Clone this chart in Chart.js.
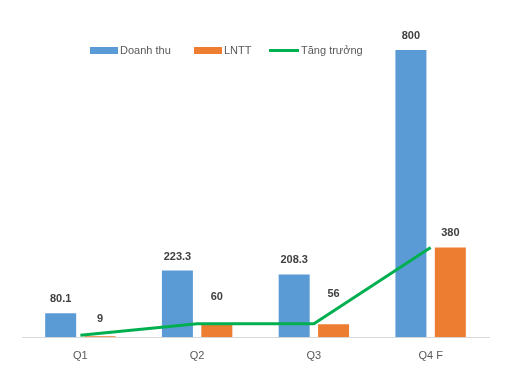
<!DOCTYPE html>
<html>
<head>
<meta charset="utf-8">
<script src="https://cdn.jsdelivr.net/npm/chart.js@4/dist/chart.umd.min.js"></script>
<style>
  html, body { margin: 0; padding: 0; background: #ffffff; }
  #wrap { width: 525px; height: 379px; position: relative; }
</style>
</head>
<body>
<div id="wrap"><canvas id="c" width="525" height="379"></canvas></div>
<script>
// ---- Data ----
const categories = ['Q1', 'Q2', 'Q3', 'Q4 F'];
const seriesNames = ['Doanh thu', 'LNTT', 'Tăng trưởng'];
// bar heights as drawn in the reference (same units as the 800 bar)
const doanhThu = [66.7, 186, 175, 800];
const lntt = [3, 34, 36, 250];
const tangTruong = [5.5, 38, 38, 250];
// data label texts printed on the reference
const doanhThuLabels = ['80.1', '223.3', '208.3', '800'];
const lnttLabels = ['9', '60', '56', '380'];

// ---- Styles ----
const BLUE = '#5B9BD5', ORANGE = '#ED7D31', GREEN = '#00B050';
const TEXT = '#595959', LABEL = '#404040';
const FONT = '"Liberation Sans", Arial, sans-serif';
const labelLift = [[14, 14, 14, 14], [17, 28, 30, 15]];
const legendX = [90, 194, 269];
const legendY = 50.5;

const dataLabelPlugin = {
  id: 'dataLabels',
  afterDatasetsDraw(chart) {
    const ctx = chart.ctx;
    const texts = [doanhThuLabels, lnttLabels];
    ctx.save();
    ctx.font = 'bold 11px ' + FONT;
    ctx.fillStyle = LABEL;
    ctx.textAlign = 'center';
    ctx.textBaseline = 'middle';
    [0, 1].forEach(di => {
      const meta = chart.getDatasetMeta(di);
      meta.data.forEach((bar, i) => {
        ctx.fillText(texts[di][i], bar.x, bar.y - labelLift[di][i]);
      });
    });
    ctx.restore();
  }
};

const legendPlugin = {
  id: 'topLegend',
  afterDraw(chart) {
    const ctx = chart.ctx;
    ctx.save();
    ctx.font = '11px ' + FONT;
    ctx.textBaseline = 'middle';
    ctx.textAlign = 'left';
    const ds = chart.data.datasets;
    [0, 1, 2].forEach((di, k) => {
      const d = ds[di];
      const x = legendX[k];
      if (d.type === 'line') {
        ctx.strokeStyle = d.borderColor;
        ctx.lineWidth = 3;
        ctx.beginPath();
        ctx.moveTo(x, legendY);
        ctx.lineTo(x + 30, legendY);
        ctx.stroke();
        ctx.fillStyle = TEXT;
        ctx.fillText(d.label, x + 32, legendY);
      } else {
        ctx.fillStyle = d.backgroundColor;
        ctx.fillRect(x, legendY - 3.5, 28, 7);
        ctx.fillStyle = TEXT;
        ctx.fillText(d.label, x + 30, legendY);
      }
    });
    ctx.restore();
  }
};

new Chart(document.getElementById('c'), {
  data: {
    labels: categories,
    datasets: [
      { type: 'bar', label: seriesNames[0], data: doanhThu, backgroundColor: BLUE, order: 2,
        categoryPercentage: 0.675, barPercentage: 0.787 },
      { type: 'bar', label: seriesNames[1], data: lntt, backgroundColor: ORANGE, order: 2,
        categoryPercentage: 0.675, barPercentage: 0.787 },
      { type: 'line', label: seriesNames[2], data: tangTruong, borderColor: GREEN, backgroundColor: GREEN,
        borderWidth: 3, pointRadius: 0, tension: 0, fill: false, order: 0 }
    ]
  },
  options: {
    responsive: false,
    devicePixelRatio: 1,
    animation: false,
    layout: { padding: { top: 14, left: 22, right: 36, bottom: 3.5 } },
    plugins: { legend: { display: false }, tooltip: { enabled: false } },
    scales: {
      x: {
        grid: { display: false, drawTicks: false },
        border: { display: true, color: '#D9D9D9', width: 1 },
        ticks: { color: TEXT, font: { family: FONT, size: 11 }, padding: 12.5 }
      },
      y: { display: false, min: 0, max: 900 }
    }
  },
  plugins: [dataLabelPlugin, legendPlugin]
});
</script>
</body>
</html>
